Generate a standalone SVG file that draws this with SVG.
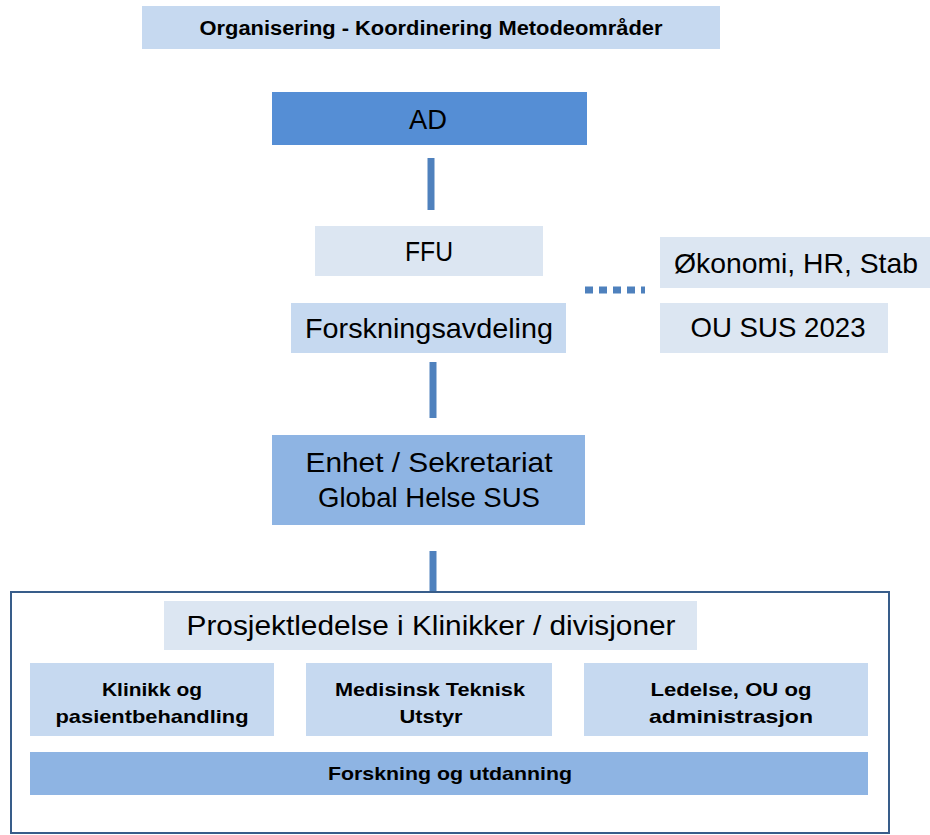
<svg xmlns="http://www.w3.org/2000/svg" width="930" height="835" viewBox="0 0 930 835">
<style>
text{font-family:"Liberation Sans",Arial,sans-serif;fill:#000;text-anchor:middle;}
.n{font-size:28px;}
.b{font-size:19px;font-weight:bold;}
.t{font-size:20px;font-weight:bold;}
.light{fill:#dce6f2;}
.mid{fill:#c6d9f0;}
.blue{fill:#8eb4e3;}
.dark{fill:#558ed5;}
.conn{stroke:#4f81bd;stroke-width:7;fill:none;}
</style>
<rect width="930" height="835" fill="#fff"/>
<g id="title"><rect class="mid" x="142" y="6" width="578" height="43"/><text class="t" x="431" y="35" textLength="463" lengthAdjust="spacingAndGlyphs">Organisering - Koordinering Metodeområder</text></g>
<g id="connectors">
<line class="conn" x1="431" y1="158" x2="431" y2="210"/>
<line class="conn" x1="433" y1="362" x2="433" y2="418"/>
<line class="conn" x1="433" y1="551" x2="433" y2="591"/>
<line class="conn" x1="585" y1="290" x2="645" y2="290" stroke-dasharray="8,6"/>
</g>
<g id="ad"><rect class="dark" x="272" y="92" width="315" height="53"/><text class="n" x="428" y="129" textLength="38" lengthAdjust="spacingAndGlyphs">AD</text></g>
<g id="ffu"><rect class="light" x="315" y="226" width="228" height="50"/><text class="n" x="429" y="261" textLength="48" lengthAdjust="spacingAndGlyphs">FFU</text></g>
<g id="forskningsavdeling"><rect class="mid" x="291" y="303" width="275" height="50"/><text class="n" x="429" y="338" textLength="248" lengthAdjust="spacingAndGlyphs">Forskningsavdeling</text></g>
<g id="okonomi"><rect class="light" x="660" y="237" width="270" height="51"/><text class="n" x="796" y="273" textLength="244" lengthAdjust="spacingAndGlyphs">Økonomi, HR, Stab</text></g>
<g id="ou"><rect class="light" x="660" y="303" width="228" height="50"/><text class="n" x="778" y="337" textLength="175" lengthAdjust="spacingAndGlyphs">OU SUS 2023</text></g>
<g id="enhet"><rect class="blue" x="272" y="435" width="313" height="90"/><text class="n" x="429" y="472" textLength="247" lengthAdjust="spacingAndGlyphs">Enhet / Sekretariat</text><text class="n" x="429" y="507" textLength="222" lengthAdjust="spacingAndGlyphs">Global Helse SUS</text></g>
<g id="outer"><rect x="11" y="592" width="878" height="241" fill="none" stroke="#385d8a" stroke-width="2"/></g>
<g id="prosjektledelse"><rect class="light" x="164" y="601" width="533" height="49"/><text class="n" x="431" y="635" textLength="489" lengthAdjust="spacingAndGlyphs">Prosjektledelse i Klinikker / divisjoner</text></g>
<g id="klinikk"><rect class="mid" x="30" y="663" width="244" height="73"/><text class="b" x="152" y="696" textLength="100" lengthAdjust="spacingAndGlyphs">Klinikk og</text><text class="b" x="152" y="723" textLength="193" lengthAdjust="spacingAndGlyphs">pasientbehandling</text></g>
<g id="medisinsk"><rect class="mid" x="306" y="663" width="246" height="73"/><text class="b" x="430" y="696" textLength="190" lengthAdjust="spacingAndGlyphs">Medisinsk Teknisk</text><text class="b" x="431" y="723" textLength="63" lengthAdjust="spacingAndGlyphs">Utstyr</text></g>
<g id="ledelse"><rect class="mid" x="584" y="663" width="284" height="73"/><text class="b" x="731" y="696" textLength="161" lengthAdjust="spacingAndGlyphs">Ledelse, OU og</text><text class="b" x="731" y="723" textLength="164" lengthAdjust="spacingAndGlyphs">administrasjon</text></g>
<g id="forskning"><rect class="blue" x="30" y="752" width="838" height="43"/><text class="b" x="450" y="780" textLength="244" lengthAdjust="spacingAndGlyphs">Forskning og utdanning</text></g>
</svg>
